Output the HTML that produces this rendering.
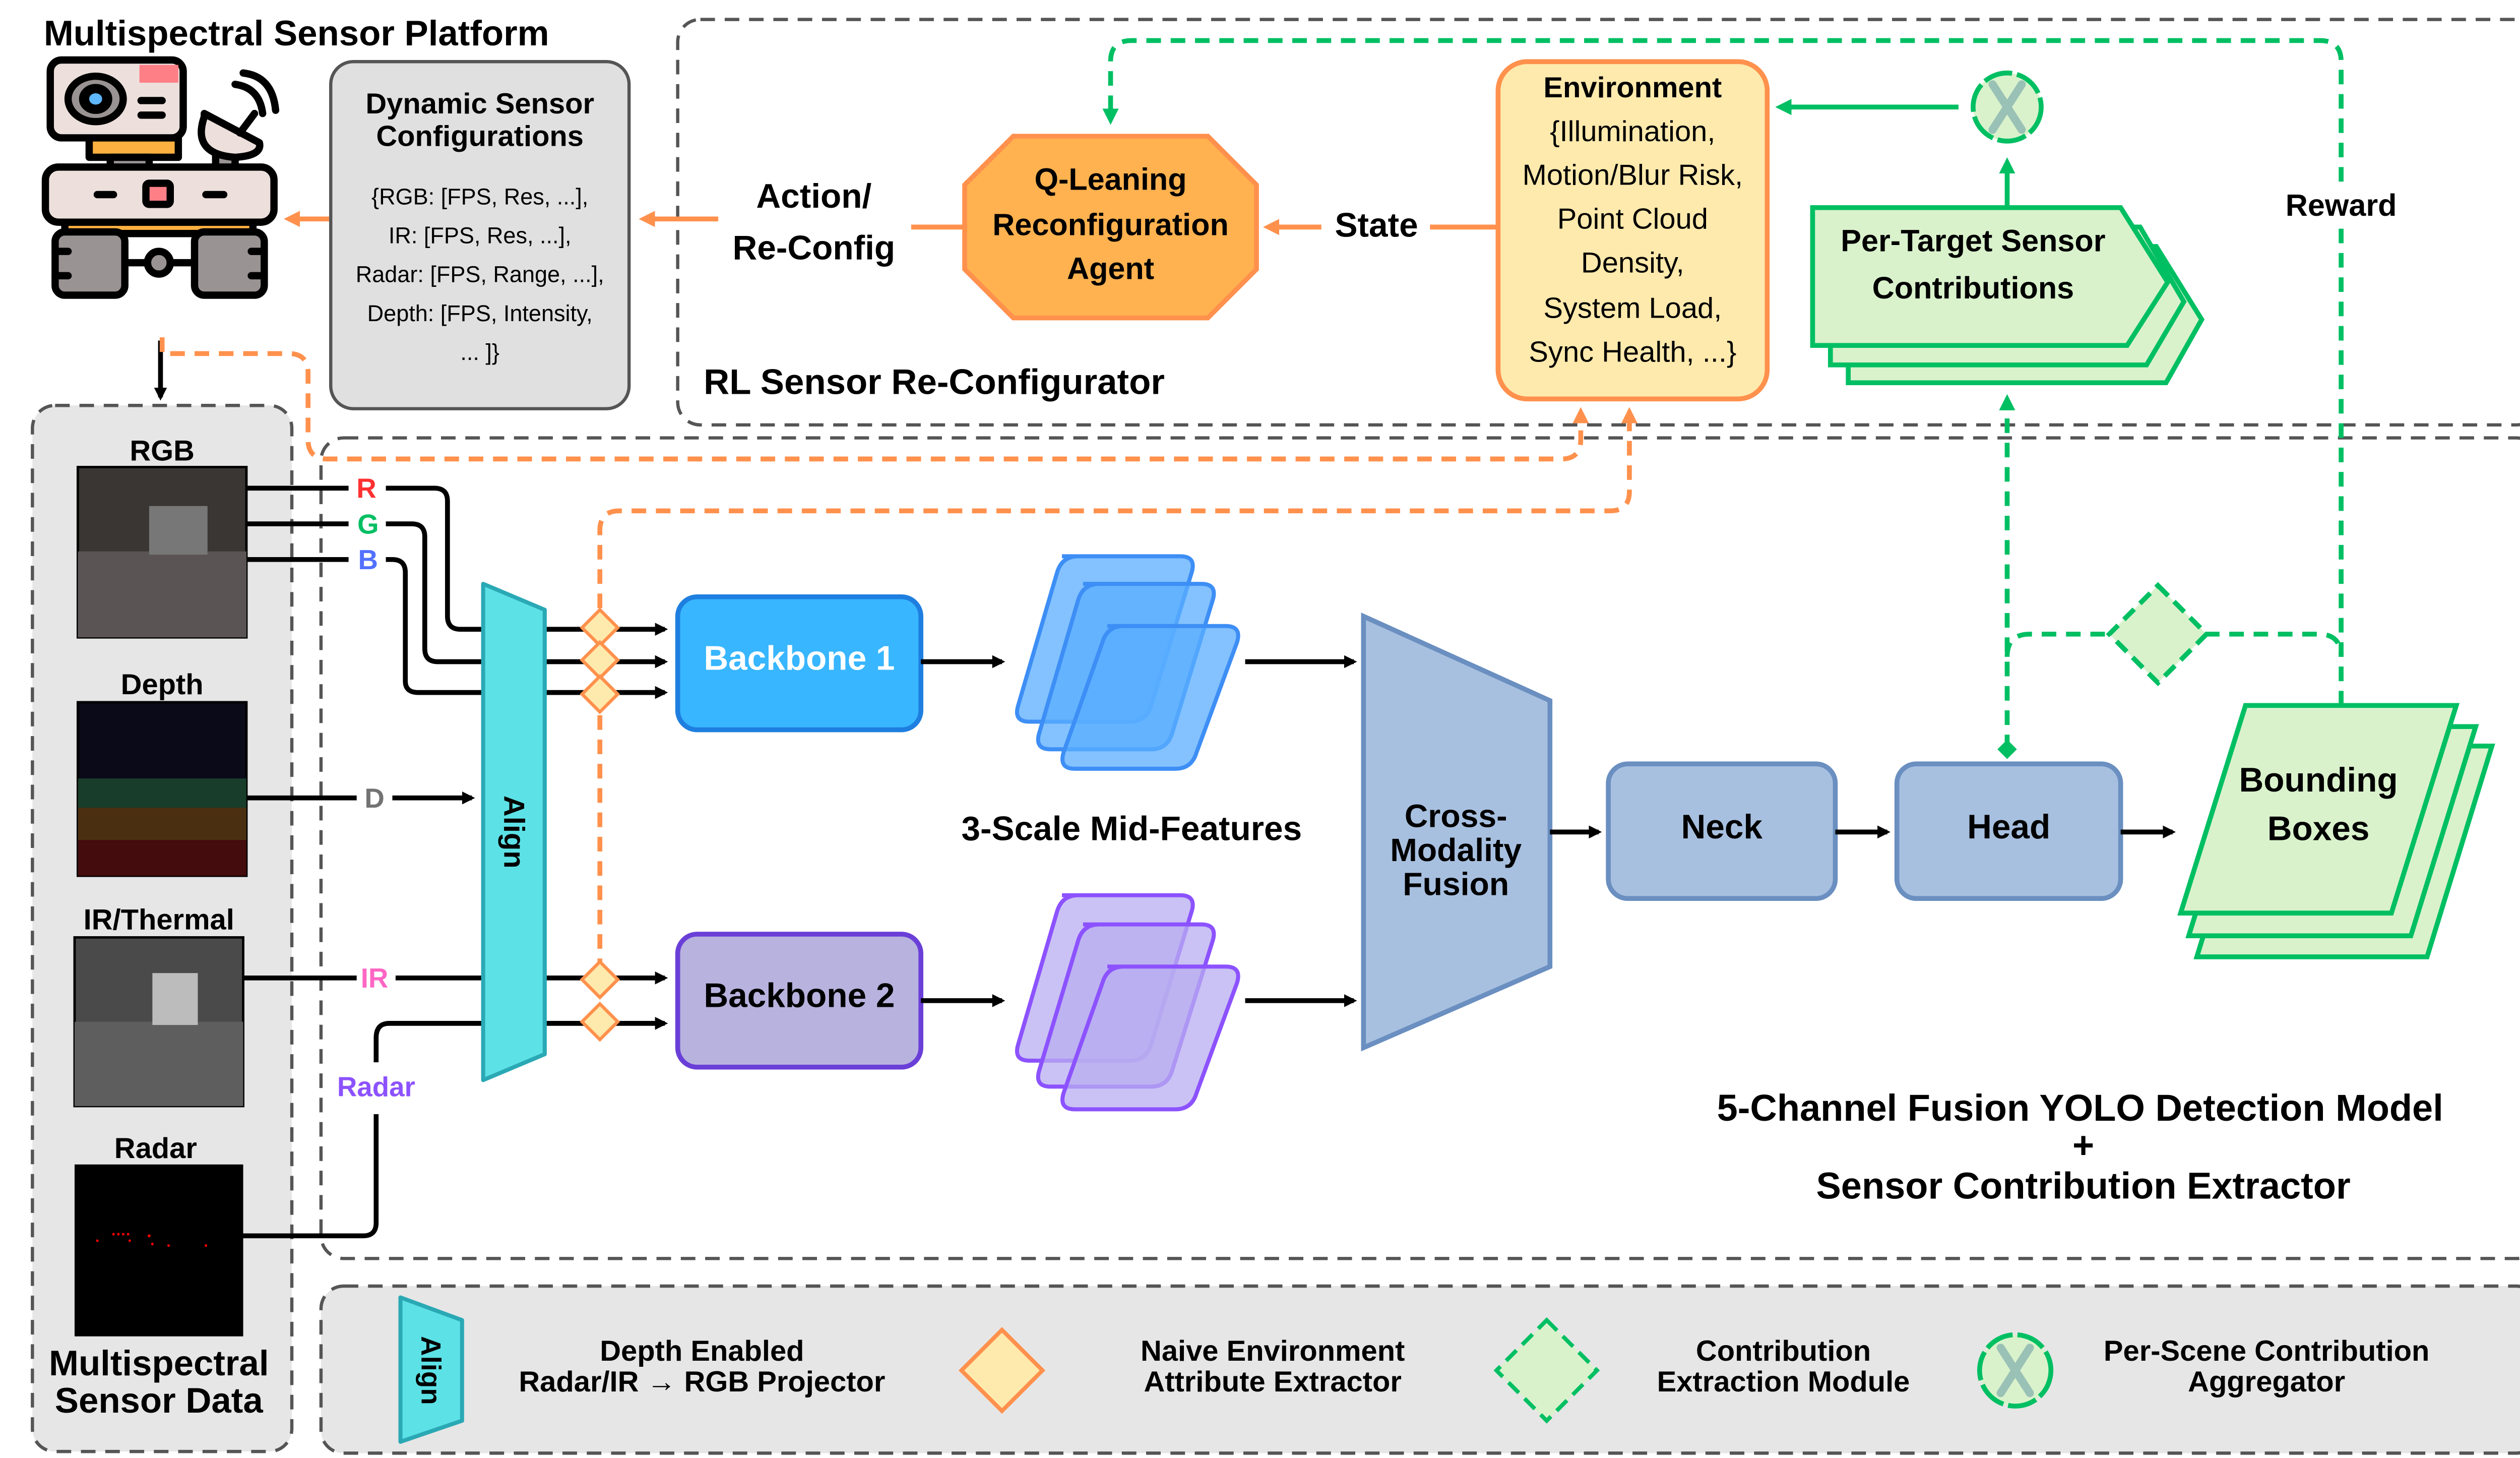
<!DOCTYPE html>
<html><head><meta charset="utf-8"><style>
html,body{margin:0;padding:0;background:#fff;}
svg{display:block;}
text{font-family:"Liberation Sans",sans-serif;}
</style></head><body>
<svg width="5044" height="2892" viewBox="0 0 1568 899" preserveAspectRatio="none" xmlns="http://www.w3.org/2000/svg">
<defs>
<marker id="ab" markerWidth="8" markerHeight="8" refX="6" refY="4" orient="auto" markerUnits="userSpaceOnUse"><path d="M0,0 L8,4 L0,8 z" fill="#000"/></marker>
<marker id="ao" markerWidth="10" markerHeight="10" refX="7" refY="5" orient="auto" markerUnits="userSpaceOnUse"><path d="M0,0 L10,5 L0,10 z" fill="#ff914d"/></marker>
<marker id="ag" markerWidth="10" markerHeight="10" refX="7" refY="5" orient="auto" markerUnits="userSpaceOnUse"><path d="M0,0 L10,5 L0,10 z" fill="#00bf63"/></marker>
</defs>

<rect x="418" y="12" width="1148" height="250" rx="14" fill="#fff" stroke="#555" stroke-width="2" stroke-dasharray="9,6"/>
<rect x="198" y="270" width="1368" height="506" rx="14" fill="#fff" stroke="#555" stroke-width="2" stroke-dasharray="9,6"/>
<rect x="20" y="250" width="160" height="645" rx="14" fill="#e6e6e6" stroke="#555" stroke-width="2" stroke-dasharray="9,6"/>
<rect x="198" y="793" width="1368" height="103" rx="14" fill="#e6e6e6" stroke="#555" stroke-width="2" stroke-dasharray="9,6"/>

<text x="27" y="28" font-size="22" font-weight="bold">Multispectral Sensor Platform</text>
<g stroke="#000" stroke-width="4.5" stroke-linejoin="round">
<rect x="55" y="85" width="55" height="12" fill="#fbb040"/>
<rect x="68" y="97" width="24" height="8" fill="#9a9393"/>
<rect x="133" y="93" width="12" height="12" fill="#9a9393"/>
<rect x="31" y="37" width="82" height="48" rx="7" fill="#ede0dc"/>
<rect x="86" y="40" width="24" height="11" fill="#ff7f86" stroke="none"/>
<ellipse cx="59" cy="61" rx="17" ry="14" fill="#9a9393"/>
<ellipse cx="59" cy="61" rx="8" ry="7" fill="#000"/>
<path d="M126,72 Q118,95 145,97 Q162,96 160,88 L126,70 z" fill="#ede0dc"/>
<path d="M148,82 L157,70 M150,45 Q168,47 170,68 M145,52 Q160,54 162,70" fill="none" stroke-linecap="round"/>
<rect x="40" y="136" width="116" height="8" fill="#fbb040"/>
<rect x="28" y="103" width="141" height="34" rx="8" fill="#ede0dc"/>
<rect x="90" y="113" width="15" height="13" rx="2" fill="#ff7f86"/>
<rect x="34" y="143" width="43" height="39" rx="6" fill="#9a9393"/>
<rect x="120" y="143" width="43" height="39" rx="6" fill="#9a9393"/>
<line x1="77" y1="162" x2="120" y2="162"/>
<circle cx="98" cy="162" r="7" fill="#9a9393"/>
</g>
<ellipse cx="59" cy="61" rx="4" ry="3.5" fill="#5fb8ff"/>
<g stroke="#000" stroke-width="4.5" stroke-linecap="round"><line x1="87" y1="62" x2="100" y2="62"/><line x1="87" y1="71" x2="100" y2="71"/><line x1="60" y1="120" x2="70" y2="120"/><line x1="127" y1="120" x2="138" y2="120"/><line x1="34" y1="155" x2="42" y2="155"/><line x1="34" y1="170" x2="42" y2="170"/><line x1="155" y1="155" x2="163" y2="155"/><line x1="155" y1="170" x2="163" y2="170"/></g>

<rect x="204" y="38" width="184" height="214" rx="14" fill="#e0e0e0" stroke="#555" stroke-width="2"/>
<text x="296" y="70" font-size="18" font-weight="bold" text-anchor="middle">Dynamic Sensor</text>
<text x="296" y="90" font-size="18" font-weight="bold" text-anchor="middle">Configurations</text>
<g font-size="14" text-anchor="middle">
<text x="296" y="126">{RGB: [FPS, Res, ...],</text>
<text x="296" y="150">IR: [FPS, Res, ...],</text>
<text x="296" y="174">Radar: [FPS, Range, ...],</text>
<text x="296" y="198">Depth: [FPS, Intensity,</text>
<text x="296" y="222">... ]}</text>
</g>
<line x1="443" y1="135" x2="397" y2="135" stroke="#ff914d" stroke-width="3" marker-end="url(#ao)"/>
<line x1="203" y1="135" x2="178" y2="135" stroke="#ff914d" stroke-width="3" marker-end="url(#ao)"/>
<text x="502" y="128" font-size="21" font-weight="bold" text-anchor="middle">Action/</text>
<text x="502" y="160" font-size="21" font-weight="bold" text-anchor="middle">Re-Config</text>
<line x1="562" y1="140" x2="595" y2="140" stroke="#ff914d" stroke-width="3"/>

<polygon points="625,84 745,84 775,114 775,166 745,196 625,196 595,166 595,114" fill="#ffb24f" stroke="#ff914d" stroke-width="3"/>
<g font-size="19" font-weight="bold" text-anchor="middle"><text x="685" y="117">Q-Leaning</text><text x="685" y="145">Reconfiguration</text><text x="685" y="172">Agent</text></g>
<line x1="815" y1="140" x2="782" y2="140" stroke="#ff914d" stroke-width="3" marker-end="url(#ao)"/>
<text x="849" y="146" font-size="21" font-weight="bold" text-anchor="middle">State</text>
<line x1="882" y1="140" x2="923" y2="140" stroke="#ff914d" stroke-width="3"/>

<rect x="924" y="38" width="166" height="208" rx="18" fill="#ffeaad" stroke="#ff914d" stroke-width="3"/>
<g font-size="18" text-anchor="middle"><text x="1007" y="60" font-weight="bold">Environment</text>
<text x="1007" y="87">{Illumination,</text><text x="1007" y="114">Motion/Blur Risk,</text><text x="1007" y="141">Point Cloud</text><text x="1007" y="168">Density,</text><text x="1007" y="196">System Load,</text><text x="1007" y="223">Sync Health, ...}</text></g>
<text x="434" y="243" font-size="22" font-weight="bold">RL Sensor Re-Configurator</text>

<line x1="1208" y1="66" x2="1098" y2="66" stroke="#00bf63" stroke-width="3" marker-end="url(#ag)"/>
<circle cx="1238" cy="66" r="21" fill="#d9f2cc" stroke="#00bf63" stroke-width="3" stroke-dasharray="18,3"/>
<g stroke="#9ac1b5" stroke-width="5" stroke-linecap="round"><line x1="1229" y1="52" x2="1247" y2="80"/><line x1="1247" y1="52" x2="1229" y2="80"/></g>
<line x1="1238" y1="128" x2="1238" y2="100" stroke="#00bf63" stroke-width="3" marker-end="url(#ag)"/>

<g fill="#d9f2cc" stroke="#00bf63" stroke-width="3">
<polygon points="1140,152 1330,152 1358,197 1336,236 1140,236"/>
<polygon points="1129,140 1320,140 1347,186 1324,225 1129,225"/>
<polygon points="1118,128 1308,128 1337,174 1312,213 1118,213"/>
</g>
<text x="1217" y="155" font-size="19" font-weight="bold" text-anchor="middle">Per-Target Sensor</text>
<text x="1217" y="184" font-size="19" font-weight="bold" text-anchor="middle">Contributions</text>
<text x="1444" y="133" font-size="19" font-weight="bold" text-anchor="middle">Reward</text>

<g fill="none" stroke="#00bf63" stroke-width="3" stroke-dasharray="9,6">
<path d="M1444,435 L1444,140 M1444,112 L1444,38 Q1444,25 1431,25 L698,25 Q685,25 685,38 L685,74" marker-end="url(#ag)"/>
<path d="M1238,462 L1238,246" marker-end="url(#ag)"/>
<path d="M1238,405 Q1238,391 1252,391 L1302,391 M1360,391 L1430,391 Q1444,391 1444,405"/>
</g>
<polygon points="1331,361 1361,391 1331,421 1301,391" fill="#d9f2cc" stroke="#00bf63" stroke-width="3" stroke-dasharray="9,5"/>
<polygon points="1238,456 1244,462 1238,468 1232,462" fill="#00bf63"/>

<text x="100" y="284" font-size="18" font-weight="bold" text-anchor="middle">RGB</text>
<rect x="48" y="288" width="104" height="105" fill="#3a3634" stroke="#000" stroke-width="1.5"/>
<rect x="48" y="340" width="104" height="53" fill="#5a5554"/>
<rect x="92" y="312" width="36" height="30" fill="#777"/>
<text x="100" y="428" font-size="18" font-weight="bold" text-anchor="middle">Depth</text>
<rect x="48" y="433" width="104" height="107" fill="#0a0a18" stroke="#000" stroke-width="1.5"/>
<rect x="48" y="480" width="104" height="18" fill="#1c4a30" opacity="0.8"/>
<rect x="48" y="498" width="104" height="20" fill="#5a3a10" opacity="0.8"/>
<rect x="48" y="518" width="104" height="22" fill="#4a0c0c" opacity="0.9"/>
<text x="98" y="573" font-size="18" font-weight="bold" text-anchor="middle">IR/Thermal</text>
<rect x="46" y="578" width="104" height="104" fill="#4a4a4a" stroke="#000" stroke-width="1.5"/>
<rect x="46" y="630" width="104" height="52" fill="#5e5e5e"/>
<rect x="94" y="600" width="28" height="32" fill="#bcbcbc"/>
<text x="96" y="714" font-size="18" font-weight="bold" text-anchor="middle">Radar</text>
<rect x="46" y="718" width="104" height="106" fill="#000"/>
<g fill="#f00"><circle cx="60" cy="765" r="0.8"/><circle cx="70" cy="761" r="0.8"/><circle cx="73" cy="761" r="0.8"/><circle cx="76" cy="761" r="0.8"/><circle cx="79" cy="761" r="0.8"/><circle cx="80" cy="765" r="0.8"/><circle cx="92" cy="762" r="0.9"/><circle cx="94" cy="767" r="0.8"/><circle cx="104" cy="768" r="0.8"/><circle cx="127" cy="768" r="0.8"/></g>
<text x="98" y="848" font-size="22" font-weight="bold" text-anchor="middle">Multispectral</text>
<text x="98" y="871" font-size="22" font-weight="bold" text-anchor="middle">Sensor Data</text>
<line x1="99" y1="210" x2="99" y2="245" stroke="#000" stroke-width="3" marker-end="url(#ab)"/>

<g fill="none" stroke="#ff914d" stroke-width="3" stroke-dasharray="9,6">
<path d="M100,208 L100,218 L178,218 Q190,218 190,230 L190,271 Q190,283 202,283 L963,283 Q975,283 975,271 L975,254" marker-end="url(#ao)"/>
<path d="M370,600 L370,327 Q370,315 382,315 L993,315 Q1005,315 1005,303 L1005,254" marker-end="url(#ao)"/>
</g>

<g fill="none" stroke="#000" stroke-width="3">
<path d="M152,301 L215,301 M238,301 L268,301 Q276,301 276,309 L276,380 Q276,388 284,388 L410,388" marker-end="url(#ab)"/>
<path d="M152,323 L215,323 M238,323 L254,323 Q262,323 262,331 L262,400 Q262,408 270,408 L410,408" marker-end="url(#ab)"/>
<path d="M152,345 L215,345 M238,345 L242,345 Q250,345 250,353 L250,420 Q250,427 258,427 L410,427" marker-end="url(#ab)"/>
<path d="M152,492 L220,492 M242,492 L291,492" marker-end="url(#ab)"/>
<path d="M150,603 L220,603 M244,603 L410,603" marker-end="url(#ab)"/>
<path d="M150,762 L224,762 Q232,762 232,754 L232,687 M232,655 L232,640 Q232,631 240,631 L410,631" marker-end="url(#ab)"/>
</g>
<g font-size="17" font-weight="bold" text-anchor="middle">
<text x="226" y="307" style="fill:#ff3131">R</text><text x="227" y="329" style="fill:#00bf63">G</text><text x="227" y="351" style="fill:#5271ff">B</text>
<text x="231" y="498" style="fill:#737373">D</text><text x="231" y="609" style="fill:#ff66c4">IR</text><text x="232" y="676" style="fill:#8c52ff">Radar</text></g>

<polygon points="298,360 336,376 336,650 298,666" fill="#5ce1e6" stroke="#2aa9b5" stroke-width="2.5" stroke-linejoin="round"/>
<text x="0" y="0" font-size="18" font-weight="bold" text-anchor="middle" transform="translate(311,513) rotate(90)">Align</text>

<g fill="#ffeaad" stroke="#ff914d" stroke-width="2">
<polygon points="370,376 381,387 370,398 359,387"/>
<polygon points="370,396 381,407 370,418 359,407"/>
<polygon points="370,417 381,428 370,439 359,428"/>
<polygon points="370,593 381,604 370,615 359,604"/>
<polygon points="370,619 381,630 370,641 359,630"/>
</g>

<rect x="418" y="368" width="150" height="82" rx="12" fill="#38b6ff" stroke="#1e7fe0" stroke-width="3"/>
<text x="493" y="413" font-size="21" font-weight="bold" text-anchor="middle" style="fill:#fff">Backbone 1</text>
<rect x="418" y="576" width="150" height="82" rx="12" fill="#b8b2de" stroke="#6a3fd8" stroke-width="3"/>
<text x="493" y="621" font-size="21" font-weight="bold" text-anchor="middle">Backbone 2</text>
<line x1="568" y1="408" x2="618" y2="408" stroke="#000" stroke-width="3" marker-end="url(#ab)"/>
<line x1="568" y1="617" x2="618" y2="617" stroke="#000" stroke-width="3" marker-end="url(#ab)"/>

<g fill="#5aaeff" fill-opacity="0.75" stroke="#3d8ef5" stroke-width="2.5">
<path d="M655,343 L728,343 Q738,343 735,353 L710,435 Q707,445 697,445 L635,445 Q625,445 628,435 L652,353 Q655,343 665,343z"/>
<path d="M668,360 L741,360 Q751,360 748,370 L723,452 Q720,462 710,462 L648,462 Q638,462 641,452 L665,370 Q668,360 678,360z"/>
<path d="M683,386 L756,386 Q766,386 763,396 L738,464 Q735,474 725,474 L663,474 Q653,474 656,464 L680,396 Q683,386 693,386z"/>
</g>
<g fill="#b8aef0" fill-opacity="0.75" stroke="#8c52ff" stroke-width="2.5">
<path d="M655,552 L728,552 Q738,552 735,562 L710,644 Q707,654 697,654 L635,654 Q625,654 628,644 L652,562 Q655,552 665,552z"/>
<path d="M668,570 L741,570 Q751,570 748,580 L723,660 Q720,670 710,670 L648,670 Q638,670 641,660 L665,580 Q668,570 678,570z"/>
<path d="M683,596 L756,596 Q766,596 763,606 L738,674 Q735,684 725,684 L663,684 Q653,684 656,674 L680,606 Q683,596 693,596z"/>
</g>
<text x="698" y="518" font-size="21" font-weight="bold" text-anchor="middle">3-Scale Mid-Features</text>
<line x1="768" y1="408" x2="835" y2="408" stroke="#000" stroke-width="3" marker-end="url(#ab)"/>
<line x1="768" y1="617" x2="835" y2="617" stroke="#000" stroke-width="3" marker-end="url(#ab)"/>

<polygon points="841,380 956,432 956,596 841,646" fill="#a8c0e0" stroke="#6a8fc0" stroke-width="3"/>
<g font-size="20" font-weight="bold" text-anchor="middle"><text x="898" y="510">Cross-</text><text x="898" y="531">Modality</text><text x="898" y="552">Fusion</text></g>
<line x1="956" y1="513" x2="986" y2="513" stroke="#000" stroke-width="3" marker-end="url(#ab)"/>
<rect x="992" y="471" width="140" height="83" rx="12" fill="#a8c0e0" stroke="#6a8fc0" stroke-width="3"/>
<text x="1062" y="517" font-size="21" font-weight="bold" text-anchor="middle">Neck</text>
<line x1="1132" y1="513" x2="1164" y2="513" stroke="#000" stroke-width="3" marker-end="url(#ab)"/>
<rect x="1170" y="471" width="138" height="83" rx="12" fill="#a8c0e0" stroke="#6a8fc0" stroke-width="3"/>
<text x="1239" y="517" font-size="21" font-weight="bold" text-anchor="middle">Head</text>
<line x1="1308" y1="513" x2="1340" y2="513" stroke="#000" stroke-width="3" marker-end="url(#ab)"/>

<g fill="#d9f2cc" stroke="#00bf63" stroke-width="3">
<polygon points="1395,460 1537,460 1497,590 1355,590"/>
<polygon points="1390,448 1527,448 1487,577 1350,577"/>
<polygon points="1385,435 1515,435 1475,563 1345,563"/>
</g>
<text x="1430" y="488" font-size="21" font-weight="bold" text-anchor="middle">Bounding</text>
<text x="1430" y="518" font-size="21" font-weight="bold" text-anchor="middle">Boxes</text>

<g font-size="23" font-weight="bold" text-anchor="middle">
<text x="1283" y="691">5-Channel Fusion YOLO Detection Model</text>
<text x="1285" y="714">+</text>
<text x="1285" y="739">Sensor Contribution Extractor</text></g>

<polygon points="247,800 285,814 285,876 247,889" fill="#5ce1e6" stroke="#2aa9b5" stroke-width="2.5" stroke-linejoin="round"/>
<text x="0" y="0" font-size="17" font-weight="bold" text-anchor="middle" transform="translate(260,845) rotate(90)">Align</text>
<g font-size="18" font-weight="bold" text-anchor="middle">
<text x="433" y="839">Depth Enabled</text><text x="433" y="858">Radar/IR → RGB Projector</text>
<text x="785" y="839">Naive Environment</text><text x="785" y="858">Attribute Extractor</text>
<text x="1100" y="839">Contribution</text><text x="1100" y="858">Extraction Module</text>
<text x="1398" y="839">Per-Scene Contribution</text><text x="1398" y="858">Aggregator</text></g>
<polygon points="618,820 643,845 618,870 593,845" fill="#ffeaad" stroke="#ff914d" stroke-width="2.5"/>
<polygon points="954,814 985,845 954,876 923,845" fill="#d9f2cc" stroke="#00bf63" stroke-width="2.5" stroke-dasharray="9,5"/>
<circle cx="1243" cy="845" r="22" fill="#d9f2cc" stroke="#00bf63" stroke-width="3" stroke-dasharray="18,3"/>
<g stroke="#9ac1b5" stroke-width="5" stroke-linecap="round"><line x1="1234" y1="831" x2="1252" y2="859"/><line x1="1252" y1="831" x2="1234" y2="859"/></g>
</svg>
</body></html>
